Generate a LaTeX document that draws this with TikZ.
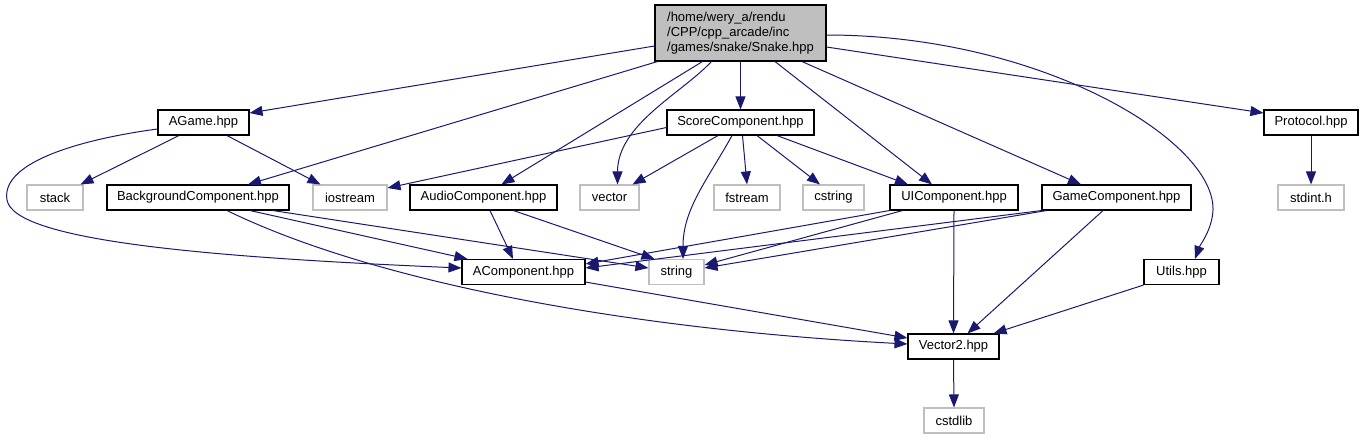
\documentclass[tikz,border=0pt]{standalone}
\usepackage{fontspec}
\setmainfont{Liberation Sans}
\usetikzlibrary{arrows.meta}
\definecolor{navy}{RGB}{25,25,112}
\definecolor{lgray}{RGB}{191,191,191}
\begin{document}
\begin{tikzpicture}[x=1pt,y=-1pt,
  fbox/.style={draw=black, line width=1.1pt, rectangle, inner sep=0pt, minimum height=25pt, font=\fontsize{13}{15}\selectfont, fill=white},
  sbox/.style={fbox, draw=lgray},
  dep/.style={draw=navy, line width=1pt, -{Triangle[length=13pt,width=10pt]}}]
\useasboundingbox (0,0) rectangle (1367,440);
% nodes
\node[fbox, fill=lgray, minimum width=171pt, minimum height=56pt, align=left, inner xsep=11pt, font=\fontsize{13}{14.8}\selectfont] (snake) at (740.5,33) {/home/wery\_a/rendu\\/CPP/cpp\_arcade/inc\\/games/snake/Snake.hpp};
\node[fbox, minimum width=91pt] (agame) at (203.5,122.5) {AGame.hpp};
\node[fbox, minimum width=147pt] (score) at (740.5,122.5) {ScoreComponent.hpp};
\node[fbox, minimum width=94pt] (protocol) at (1311,122.5) {Protocol.hpp};
\node[sbox, minimum width=56pt] (stack) at (55,197.5) {stack};
\node[fbox, minimum width=182pt] (bg) at (198,197.5) {BackgroundComponent.hpp};
\node[sbox, minimum width=74pt] (iostream) at (350,197.5) {iostream};
\node[fbox, minimum width=147pt] (audio) at (483.5,197.5) {AudioComponent.hpp};
\node[sbox, minimum width=59pt] (vector) at (609.5,197.5) {vector};
\node[sbox, minimum width=66pt] (fstream) at (747,197.5) {fstream};
\node[sbox, minimum width=61pt] (cstring) at (833.5,197.5) {cstring};
\node[fbox, minimum width=128pt] (ui) at (954,197.5) {UIComponent.hpp};
\node[fbox, minimum width=149pt] (game) at (1116.5,197.5) {GameComponent.hpp};
\node[sbox, minimum width=66pt] (stdint) at (1311,197.5) {stdint.h};
\node[fbox, minimum width=123pt] (acomp) at (523.5,272) {AComponent.hpp};
\node[sbox, minimum width=55pt] (string) at (676.5,272) {string};
\node[fbox, minimum width=75pt] (utils) at (1181.5,272) {Utils.hpp};
\node[fbox, minimum width=91pt] (vector2) at (953.5,346.5) {Vector2.hpp};
\node[sbox, minimum width=60pt] (cstdlib) at (954,420.5) {cstdlib};
% edges from Snake
\draw[dep] ([yshift=-13pt]snake.west) -- ([yshift=9.5pt]agame.east);
\draw[dep] ([xshift=3pt]snake.south west) -- ([xshift=50pt]bg.north);
\draw[dep] ([xshift=48pt]snake.south west) -- ([xshift=18pt]audio.north);
\draw[dep] ([xshift=57pt]snake.south west) .. controls +(-30,32) and +(0,-60) .. ([xshift=8pt]vector.north);
\draw[dep] (snake.south) -- (score.north);
\draw[dep] ([xshift=34.5pt]snake.south) -- ([xshift=-22pt]ui.north);
\draw[dep] ([xshift=61.5pt]snake.south) -- ([xshift=-35.5pt]game.north);
\draw[dep] ([yshift=-2pt]snake.east) .. controls (1040,35) and (1215,140) .. (1213,210) .. controls (1212,230) and (1200,245) .. ([xshift=13.5pt]utils.north);
\draw[dep] ([yshift=-14pt]snake.east) -- ([yshift=9.5pt]protocol.west);
% AGame
\draw[dep] ([xshift=-24.5pt]agame.south) -- ([xshift=-3pt]stack.north east);
\draw[dep] ([xshift=23.5pt]agame.south) -- ([xshift=8pt]iostream.north west);
\draw[dep] ([yshift=-6.5pt]agame.west) .. controls (90,138) and (0,160) .. (7,200) .. controls (14,240) and (200,257) .. ([yshift=4pt]acomp.west);
% Score
\draw[dep] ([yshift=-5pt]score.west) -- ([yshift=9.5pt]iostream.east);
\draw[dep] ([xshift=-22.5pt]score.south) -- ([xshift=-7pt]vector.north east);
\draw[dep] ([xshift=-8.5pt]score.south) .. controls +(-25,45) and +(0,-50) .. ([xshift=6.5pt]string.north);
\draw[dep] ([xshift=2pt]score.south) -- (fstream.north);
\draw[dep] ([xshift=16.5pt]score.south) -- ([xshift=-13.5pt]cstring.north);
\draw[dep] ([xshift=36.5pt]score.south) -- ([xshift=-46pt]ui.north);
% Background
\draw[dep] ([xshift=52pt]bg.south) -- ([xshift=6pt]acomp.north west);
\draw[dep] ([xshift=75pt]bg.south) -- ([yshift=4pt]string.west);
\draw[dep] ([xshift=29pt]bg.south) .. controls (380,285) and (640,330) .. ([yshift=2.5pt]vector2.west);
% Audio
\draw[dep] ([xshift=6.5pt]audio.south) -- ([xshift=-10.5pt]acomp.north);
\draw[dep] ([xshift=30pt]audio.south) -- ([xshift=6pt]string.north west);
% UI
\draw[dep] (ui.south west) -- ([yshift=8pt]acomp.east);
\draw[dep] ([xshift=13pt]ui.south west) -- ([yshift=7pt]string.east);
\draw[dep] (ui.south) -- (vector2.north);
% Game
\draw[dep] (game.south west) -- ([yshift=4pt]acomp.east);
\draw[dep] ([xshift=5pt]game.south west) -- ([yshift=4pt]string.east);
\draw[dep] ([xshift=-13.5pt]game.south) -- ([xshift=14pt]vector2.north);
% others
\draw[dep] (utils.south west) -- ([xshift=-6pt]vector2.north east);
\draw[dep] ([yshift=3pt]acomp.south east) -- ([yshift=8.5pt]vector2.west);
\draw[dep] (vector2.south) -- (cstdlib.north);
\draw[dep] (protocol.south) -- (stdint.north);
\end{tikzpicture}
\end{document}
